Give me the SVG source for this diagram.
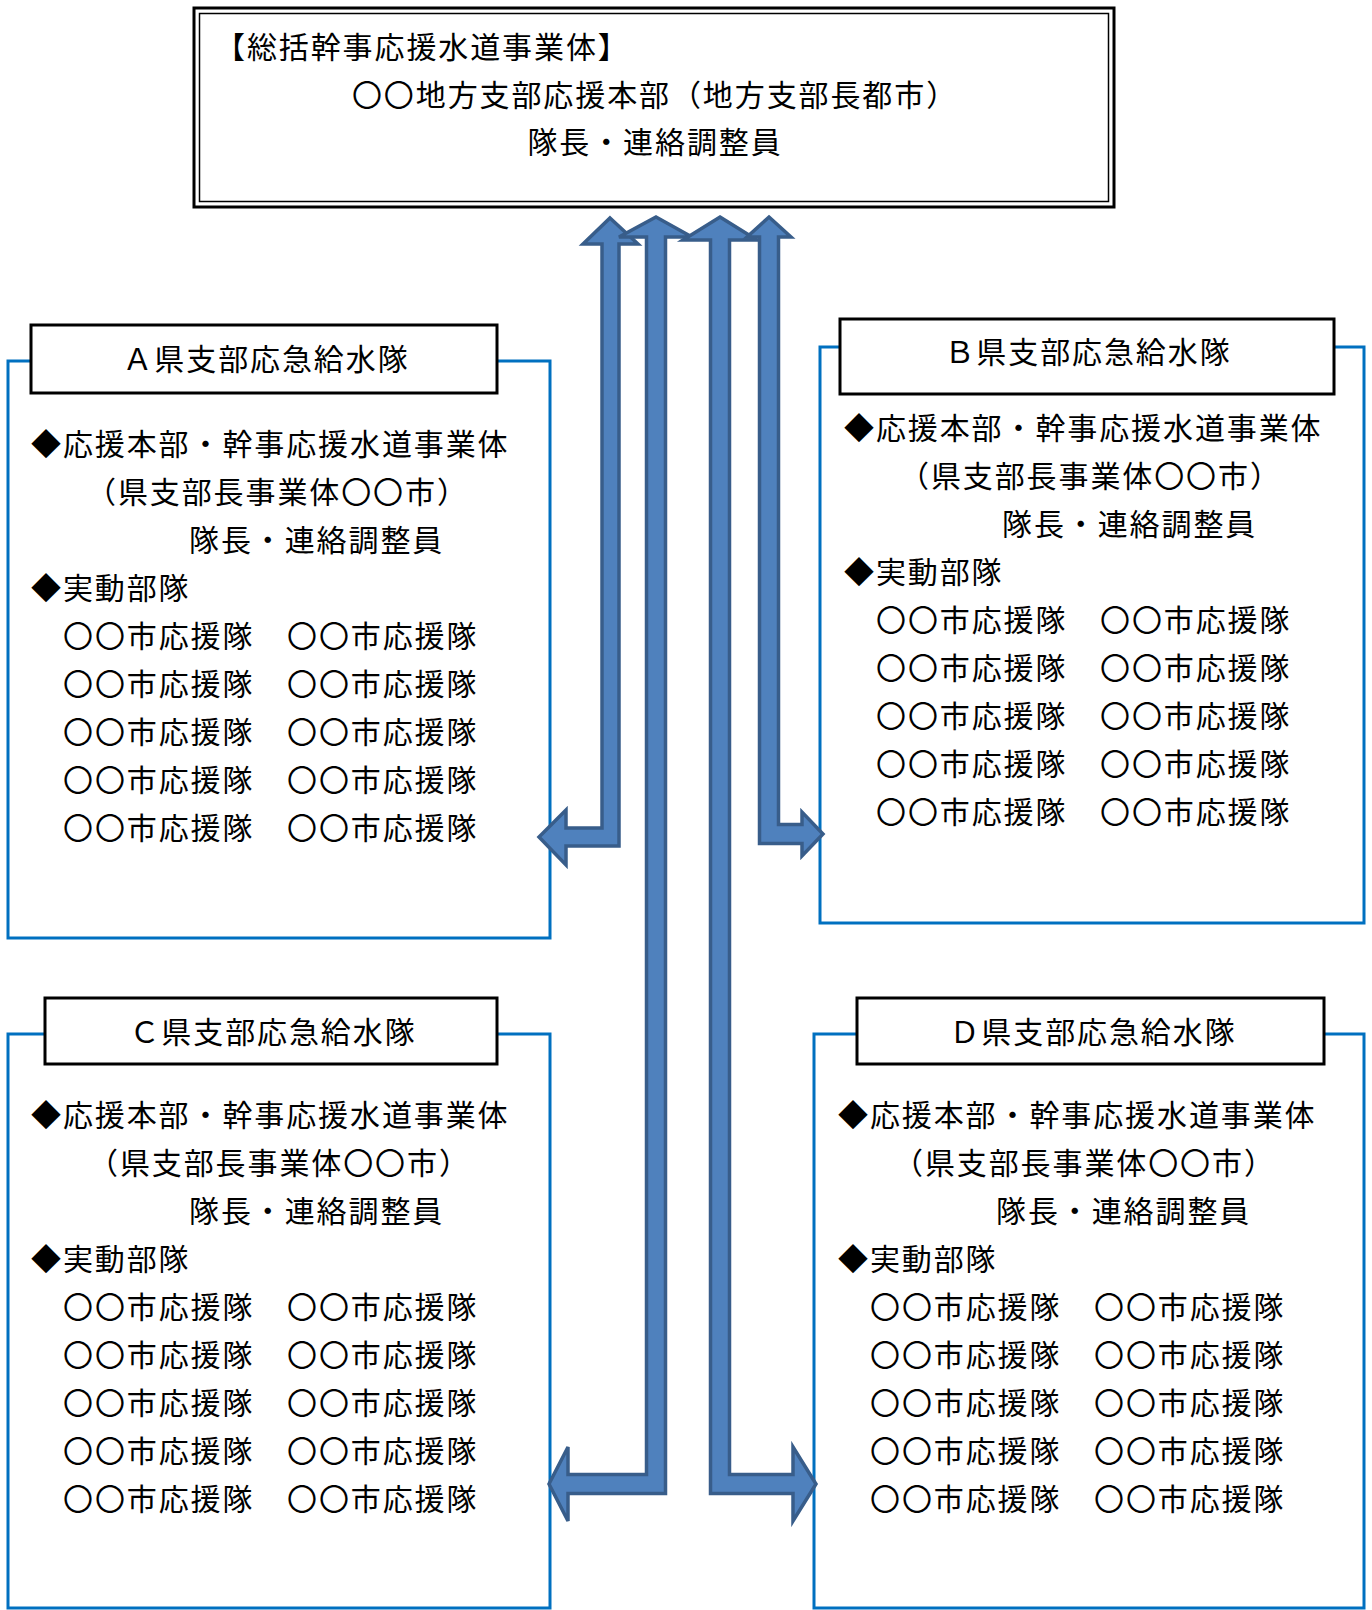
<svg xmlns="http://www.w3.org/2000/svg" width="1372" height="1610" viewBox="0 0 1372 1610">
<style>
.t { font-family: "Noto Sans CJK JP", "Noto Sans CJK SC", sans-serif; font-size: 30px; letter-spacing: 1.9px; fill: #000; }
.c { text-anchor: middle; }
.frame { fill: none; stroke: #0070C0; stroke-width: 3; }
.title { fill: #fff; stroke: #000; stroke-width: 3; }
.arrow { fill: #4F81BD; stroke: #385D8A; stroke-width: 3.5; stroke-linejoin: miter; }
</style>
<rect width="1372" height="1610" fill="#fff"/>

<g id="hq">
  <rect x="194" y="8" width="920" height="199" fill="#fff" stroke="#000" stroke-width="3"/>
  <rect x="199.5" y="13.5" width="909" height="188" fill="none" stroke="#000" stroke-width="1.5"/>
  <text class="t" x="215" y="58">【総括幹事応援水道事業体】</text>
  <text class="t c" x="655" y="106">〇〇地方支部応援本部（地方支部長都市）</text>
  <text class="t c" x="655" y="153">隊長・連絡調整員</text>
</g>

<g id="teamA">
  <rect class="frame" x="8" y="361" width="542" height="577"/>
  <rect class="title" x="31" y="325" width="466" height="68"/>
  <text class="t c" x="266" y="370">Ａ県支部応急給水隊</text>
  <text class="t" x="31" y="455">◆応援本部・幹事応援水道事業体</text>
  <text class="t" x="86" y="503">（県支部長事業体〇〇市）</text>
  <text class="t" x="189" y="551">隊長・連絡調整員</text>
  <text class="t" x="31" y="599">◆実動部隊</text>
  <text class="t" y="647"><tspan x="63">〇〇市応援隊</tspan><tspan x="287">〇〇市応援隊</tspan></text>
  <text class="t" y="695"><tspan x="63">〇〇市応援隊</tspan><tspan x="287">〇〇市応援隊</tspan></text>
  <text class="t" y="743"><tspan x="63">〇〇市応援隊</tspan><tspan x="287">〇〇市応援隊</tspan></text>
  <text class="t" y="791"><tspan x="63">〇〇市応援隊</tspan><tspan x="287">〇〇市応援隊</tspan></text>
  <text class="t" y="839"><tspan x="63">〇〇市応援隊</tspan><tspan x="287">〇〇市応援隊</tspan></text>
</g>

<g id="teamB">
  <rect class="frame" x="820" y="347" width="544" height="576"/>
  <rect class="title" x="840" y="319" width="494" height="75"/>
  <text class="t c" x="1088" y="363">Ｂ県支部応急給水隊</text>
  <text class="t" x="844" y="439">◆応援本部・幹事応援水道事業体</text>
  <text class="t" x="899" y="487">（県支部長事業体〇〇市）</text>
  <text class="t" x="1002" y="535">隊長・連絡調整員</text>
  <text class="t" x="844" y="583">◆実動部隊</text>
  <text class="t" y="631"><tspan x="876">〇〇市応援隊</tspan><tspan x="1100">〇〇市応援隊</tspan></text>
  <text class="t" y="679"><tspan x="876">〇〇市応援隊</tspan><tspan x="1100">〇〇市応援隊</tspan></text>
  <text class="t" y="727"><tspan x="876">〇〇市応援隊</tspan><tspan x="1100">〇〇市応援隊</tspan></text>
  <text class="t" y="775"><tspan x="876">〇〇市応援隊</tspan><tspan x="1100">〇〇市応援隊</tspan></text>
  <text class="t" y="823"><tspan x="876">〇〇市応援隊</tspan><tspan x="1100">〇〇市応援隊</tspan></text>
</g>

<g id="teamC">
  <rect class="frame" x="8" y="1034" width="542" height="574"/>
  <rect class="title" x="45" y="998" width="452" height="66"/>
  <text class="t c" x="273" y="1043">Ｃ県支部応急給水隊</text>
  <text class="t" x="31" y="1126">◆応援本部・幹事応援水道事業体</text>
  <text class="t" x="88" y="1174">（県支部長事業体〇〇市）</text>
  <text class="t" x="189" y="1222">隊長・連絡調整員</text>
  <text class="t" x="31" y="1270">◆実動部隊</text>
  <text class="t" y="1318"><tspan x="63">〇〇市応援隊</tspan><tspan x="287">〇〇市応援隊</tspan></text>
  <text class="t" y="1366"><tspan x="63">〇〇市応援隊</tspan><tspan x="287">〇〇市応援隊</tspan></text>
  <text class="t" y="1414"><tspan x="63">〇〇市応援隊</tspan><tspan x="287">〇〇市応援隊</tspan></text>
  <text class="t" y="1462"><tspan x="63">〇〇市応援隊</tspan><tspan x="287">〇〇市応援隊</tspan></text>
  <text class="t" y="1510"><tspan x="63">〇〇市応援隊</tspan><tspan x="287">〇〇市応援隊</tspan></text>
</g>

<g id="teamD">
  <rect class="frame" x="814" y="1034" width="550" height="574"/>
  <rect class="title" x="857" y="998" width="467" height="66"/>
  <text class="t c" x="1093" y="1043">Ｄ県支部応急給水隊</text>
  <text class="t" x="838" y="1126">◆応援本部・幹事応援水道事業体</text>
  <text class="t" x="893" y="1174">（県支部長事業体〇〇市）</text>
  <text class="t" x="996" y="1222">隊長・連絡調整員</text>
  <text class="t" x="838" y="1270">◆実動部隊</text>
  <text class="t" y="1318"><tspan x="870">〇〇市応援隊</tspan><tspan x="1094">〇〇市応援隊</tspan></text>
  <text class="t" y="1366"><tspan x="870">〇〇市応援隊</tspan><tspan x="1094">〇〇市応援隊</tspan></text>
  <text class="t" y="1414"><tspan x="870">〇〇市応援隊</tspan><tspan x="1094">〇〇市応援隊</tspan></text>
  <text class="t" y="1462"><tspan x="870">〇〇市応援隊</tspan><tspan x="1094">〇〇市応援隊</tspan></text>
  <text class="t" y="1510"><tspan x="870">〇〇市応援隊</tspan><tspan x="1094">〇〇市応援隊</tspan></text>
</g>

<g id="connectors">
  <polygon class="arrow" points="610,218 638,244 619,244 619,846 566,846 566,865 539,837 566,810 566,828 602,828 602,244 583,244"/>
  <polygon class="arrow" points="656,217 692,237 665.5,237 665.5,1493.5 568,1493.5 568,1521 549,1484 568,1447 568,1474.5 646.5,1474.5 646.5,237 619,237"/>
  <polygon class="arrow" points="720,217 757,240 729.5,240 729.5,1474.5 793,1474.5 793,1447 816,1484 793,1521 793,1493.5 710.5,1493.5 710.5,240 683,240"/>
  <polygon class="arrow" points="769,217 791,237 778.5,237 778.5,824.5 802,824.5 802,812 823,834 802,856 802,843.5 759.5,843.5 759.5,237 747,237"/>
</g>
</svg>
